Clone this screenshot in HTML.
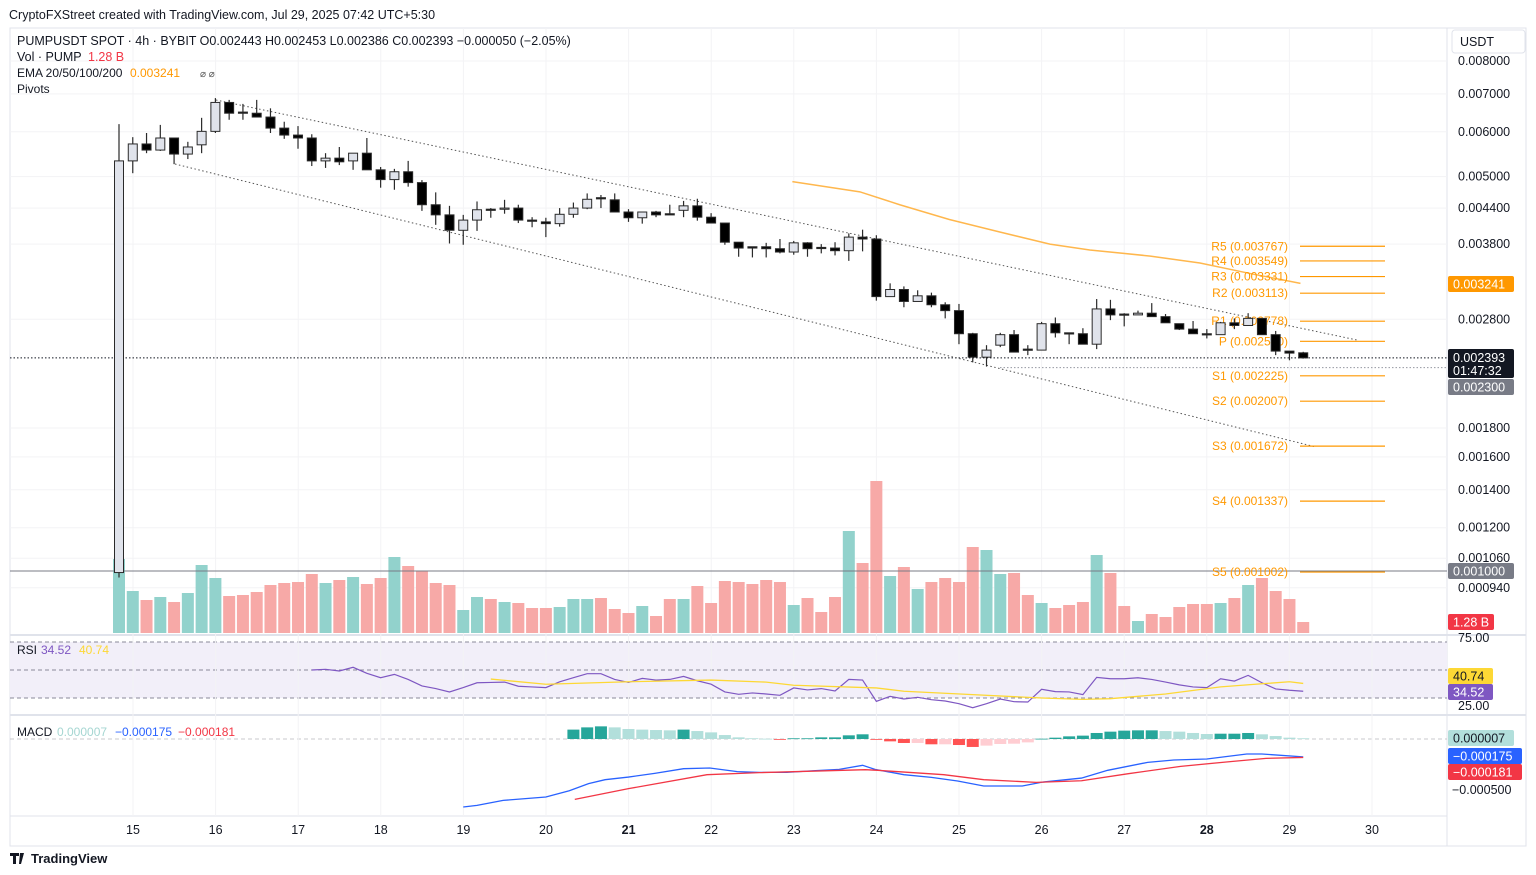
<!DOCTYPE html>
<html><head><meta charset="utf-8"><style>
html,body{margin:0;padding:0;background:#fff;width:1536px;height:875px;overflow:hidden}
svg{display:block;font-family:"Liberation Sans",Arial,sans-serif}
</style></head><body>
<svg id="chart" width="1536" height="875" viewBox="0 0 1536 875">
<g id="bg"></g><g id="grid"></g><g id="vol"></g><g id="lines"></g><g id="candles"></g><g id="overlay"></g><g id="axes"></g><g id="labels"></g>
</svg>
<script>
const openP=[.00100,.00533,.00571,.00557,.00585,.00548,.00569,.00601,.00676,.00650,.00647,.00637,.00609,.00592,.00585,.00533,.00539,.00533,.00550,.00514,.00494,.00510,.00488,.00446,.00428,.00402,.00419,.00438,.00440,.00440,.00419,.00416,.00413,.00429,.00440,.00459,.00455,.00433,.00423,.00433,.00430,.00436,.00444,.00424,.00414,.00383,.00376,.00376,.00373,.00368,.00382,.00375,.00374,.00370,.00391,.00388,.00307,.00316,.00301,.00308,.00297,.00290,.00264,.00240,.00252,.00263,.00248,.00247,.00275,.00265,.00264,.00253,.00292,.00286,.00285,.00287,.00283,.00275,.00269,.00264,.00263,.00276,.00273,.00281,.00263,.00246,.002443];
const highP=[.00619,.00587,.00597,.00617,.00585,.00576,.00635,.00688,.00683,.00672,.00683,.00660,.00625,.00614,.00594,.00550,.00564,.00550,.00585,.00520,.00516,.00533,.00493,.00469,.00444,.00428,.00452,.00440,.00455,.00446,.00424,.00423,.00440,.00450,.00467,.00464,.00467,.00438,.00433,.00435,.00446,.00453,.00457,.00431,.00414,.00383,.00376,.00382,.00388,.00385,.00383,.00380,.00383,.00397,.00403,.00394,.00324,.00320,.00315,.00312,.00300,.00298,.00265,.00252,.00265,.00268,.00252,.00277,.00282,.00265,.00270,.00304,.00303,.00287,.00290,.00299,.00286,.00275,.00278,.00269,.00277,.00281,.00287,.00281,.00267,.00246,.002453];
const lowP=[.00098,.00507,.00550,.00555,.00526,.00537,.00550,.00597,.00630,.00630,.00637,.00597,.00583,.00560,.00522,.00518,.00524,.00514,.00514,.00478,.00474,.00480,.00435,.00411,.00381,.00379,.00401,.00423,.00430,.00414,.00407,.00391,.00408,.00423,.00438,.00440,.00433,.00416,.00413,.00424,.00428,.00424,.00418,.00414,.00379,.00361,.00360,.00360,.00366,.00364,.00361,.00366,.00363,.00355,.00369,.00302,.00307,.00294,.00301,.00294,.00281,.00253,.00235,.00231,.00250,.00245,.00242,.00247,.00260,.00253,.00253,.00248,.00279,.00272,.00285,.00283,.00276,.00268,.00264,.00259,.00263,.00269,.00273,.00263,.00242,.00237,.002386];
const closeP=[.00533,.00571,.00557,.00585,.00548,.00564,.00601,.00676,.00647,.00647,.00637,.00609,.00592,.00585,.00533,.00539,.00531,.00550,.00514,.00494,.00510,.00488,.00446,.00428,.00402,.00419,.00437,.00436,.00440,.00419,.00417,.00413,.00429,.00440,.00456,.00458,.00433,.00423,.00433,.00428,.00428,.00444,.00424,.00414,.00383,.00374,.00374,.00373,.00368,.00382,.00373,.00374,.00370,.00391,.00388,.00307,.00316,.00301,.00308,.00297,.00290,.00264,.00240,.00247,.00263,.00245,.00247,.00275,.00265,.00264,.00253,.00292,.00285,.00285,.00287,.00283,.00276,.00269,.00264,.00263,.00276,.00273,.00281,.00263,.00246,.00244,.002393];
const volume=[74,42,33,36,31,40,68,55,37,38,41,48,50,51,59,50,53,56,49,55,76,67,62,50,48,23,36,34,31,30,25,25,26,34,34,35,24,20,27,17,34,34,47,30,52,51,49,53,51,28,35,21,36,102,70,152,57,66,44,51,55,51,86,83,59,60,38,30,25,28,31,78,60,27,12,19,16,26,29,29,30,35,48,55,42,34,11];
const emaIdx=[48.9,53.8,56.7,60.3,64.0,67.6,70.5,74.9,78.5,82.2,85.8];
const emaVal=[.00490,.00470,.00446,.00420,.00399,.00380,.00371,.00362,.00352,.00337,.00324];
const rsiVal=[50.0,50.6,49.1,52.4,47.0,43.1,46.1,41.6,35.8,33.4,30.4,34.3,38.6,38.9,39.2,35.5,34.9,34.3,39.5,43.1,46.7,46.7,41.6,38.9,42.5,41.0,41.6,44.3,40.4,37.3,30.4,28.3,29.5,28.6,27.4,34.0,32.2,33.4,31.3,41.6,41.0,22.0,26.5,24.1,25.6,23.5,22.3,19.9,16.3,19.9,24.1,21.7,21.4,32.8,30.7,30.4,28.0,43.4,42.2,42.2,43.1,41.6,39.2,36.7,34.9,34.3,42.2,40.1,45.2,38.6,33.1,31.9,31.0];
const rsiMaIdx=[27,31,37,43,47,49,55,57,62,67,70,72,76,80,83,85,86];
const rsiMaVal=[41.9,37.3,39.5,41.0,39.2,36.4,34.0,31.0,28.0,25.0,23.8,24.4,28.6,34.9,37.7,39.5,38.0];
const histVal=[92,114,124,114,98,92,88,85,92,78,65,39,16,7,3,-3,7,7,16,16,36,46,-3,-23,-39,-39,-52,-52,-59,-78,-65,-49,-46,-33,3,13,26,33,59,72,82,85,85,78,72,59,49,52,52,59,46,29,13,7];
const macdIdx=[25,26,27.9,31,32.7,34.1,35.3,37,38.9,41,42.9,44.9,46.5,48.5,50.4,52.3,54,54.9,57,59,60.9,62.8,65.6,67.1,69.9,71.8,74.7,76.6,79,81.9,83,86];
const macdVal=[-667,-651,-602,-569,-507,-438,-399,-373,-337,-291,-284,-320,-327,-327,-311,-298,-258,-298,-350,-376,-412,-461,-461,-422,-383,-307,-229,-206,-196,-147,-147,-175];
const sigIdx=[33.1,37,42.7,46.5,54.2,55.1,59.9,62.8,66.6,69.9,73.3,77.1,80.9,83.3,86];
const sigVal=[-592,-487,-350,-330,-301,-307,-350,-399,-425,-409,-340,-268,-219,-190,-181];
const pivotNames=["R5","R4","R3","R2","R1","P","S1","S2","S3","S4","S5"];
const pivotVals=[0.003767,0.003549,0.003331,0.003113,0.002778,0.002560,0.002225,0.002007,0.001672,0.001337,0.001002];
const priceTicks=[0.008,0.007,0.006,0.005,0.0044,0.0038,0.0028,0.0018,0.0016,0.0014,0.0012,0.00106,0.00094];
const dayLabels=["15","16","17","18","19","20","21","22","23","24","25","26","27","28","29","30"];

const NS="http://www.w3.org/2000/svg";
const xI=i=>119+i*13.77;
const yP=p=>61+246*Math.log(0.008/p);
const yV=v=>633-v;
const yR=v=>670-(v-50)*1.12;
const yM=v=>739-v*0.102;
const xD=k=>133+k*82.6;
function mk(parent,tag,attrs,text){const e=document.createElementNS(NS,tag);for(const k in attrs)e.setAttribute(k,attrs[k]);if(text!==undefined)e.textContent=text;document.getElementById(parent).appendChild(e);return e;}

let e;
e=mk('bg','rect',{x:10,y:28,width:1516,height:818,fill:'#fff',stroke:'#e0e3eb'});


e=mk('bg','line',{x1:1447,y1:28,x2:1447,y2:846,stroke:'#e0e3eb'});


e=mk('bg','line',{x1:10,y1:635,x2:1526,y2:635,stroke:'#e0e3eb',"stroke-width":2});


e=mk('bg','line',{x1:10,y1:715,x2:1526,y2:715,stroke:'#e0e3eb',"stroke-width":2});


e=mk('bg','line',{x1:10,y1:816,x2:1447,y2:816,stroke:'#e0e3eb'});


e=mk('bg','rect',{x:10,y:642,width:1437,height:56,fill:'#f2eff9'});


[642,670,698].forEach(y=>{e=mk('bg','line',{x1:10,y1:y,x2:1447,y2:y,stroke:'#8a8a99',"stroke-dasharray":"4,3","stroke-width":1});

});
e=mk('bg','line',{x1:10,y1:739,x2:1447,y2:739,stroke:'#c8c8cc',"stroke-dasharray":"4,3"});



priceTicks.forEach(p=>{e=mk('grid','line',{x1:10,y1:yP(p),x2:1447,y2:yP(p),stroke:'#f3f3f5'});

});
dayLabels.forEach((d,k)=>{e=mk('grid','line',{x1:xD(k),y1:28,x2:xD(k),y2:816,stroke:'#f3f3f5'});

});

volume.forEach((v,i)=>{const up=closeP[i]>=openP[i];
e=mk('vol','rect',{x:xI(i)-6,y:yV(v),width:12,height:v,fill:up?'#92d2cc':'#f7a9a7'});

});

e=mk('lines','line',{x1:10,y1:571,x2:1447,y2:571,stroke:'#787b86',"stroke-width":1});


e=mk('lines','line',{x1:10,y1:yP(closeP[86]),x2:1447,y2:yP(closeP[86]),stroke:'#131722',"stroke-dasharray":"1.5,2"});


e=mk('lines','line',{x1:1000,y1:yP(0.0023),x2:1447,y2:yP(0.0023),stroke:'#9598a1',"stroke-dasharray":"1.5,2"});


e=mk('lines','line',{x1:216,y1:100,x2:1357,y2:340,stroke:'#555',"stroke-dasharray":"1.5,2.5"});


e=mk('lines','line',{x1:175,y1:164,x2:1316,y2:447,stroke:'#555',"stroke-dasharray":"1.5,2.5"});


e=mk('lines','polyline',{points:emaIdx.map((v,k)=>xI(v)+','+yP(emaVal[k])).join(' '),fill:'none',stroke:'#ffb74d',"stroke-width":1.5});



pivotVals.forEach((p,k)=>{const y=yP(p);
e=mk('lines','line',{x1:1300,y1:y,x2:1385,y2:y,stroke:'#ff9800',"stroke-width":1.2});


e=mk('lines','text',{x:1288,y:y+4,"text-anchor":"end","font-size":12,fill:'#ff9800'},pivotNames[k]+' ('+p.toFixed(6)+')');

});

openP.forEach((o,i)=>{const c=closeP[i],up=c>=o,x=xI(i);
e=mk('candles','line',{x1:x,y1:yP(highP[i]),x2:x,y2:yP(lowP[i]),stroke:'#2a2a2a',"stroke-width":1.2});


const t=yP(Math.max(o,c)),b=yP(Math.min(o,c));
e=mk('candles','rect',{x:x-4.5,y:t,width:9,height:Math.max(b-t,1.2),fill:up?'#e0e3eb':'#000',stroke:'#2a2a2a',"stroke-width":1});

});

const rs=87-rsiVal.length;
e=mk('overlay','polyline',{points:rsiVal.map((v,k)=>xI(rs+k)+','+yR(v)).join(' '),fill:'none',stroke:'#7e57c2',"stroke-width":1.2});


e=mk('overlay','polyline',{points:rsiMaIdx.map((v,k)=>xI(v)+','+yR(rsiMaVal[k])).join(' '),fill:'none',stroke:'#fdd835',"stroke-width":1.3});



const hs=87-histVal.length;
histVal.forEach((v,k)=>{const prev=k>0?histVal[k-1]:0;let col;
if(v>=0)col=v>=prev?'#26a69a':'#b2dfdb';else col=v<prev?'#ff5252':'#ffcdd2';
const y0=yM(0),y1=yM(v);
e=mk('overlay','rect',{x:xI(hs+k)-6,y:Math.min(y0,y1),width:12,height:Math.max(Math.abs(y1-y0),0.8),fill:col});

});
e=mk('overlay','polyline',{points:macdIdx.map((v,k)=>xI(v)+','+yM(macdVal[k])).join(' '),fill:'none',stroke:'#2962ff',"stroke-width":1.3});


e=mk('overlay','polyline',{points:sigIdx.map((v,k)=>xI(v)+','+yM(sigVal[k])).join(' '),fill:'none',stroke:'#f23645',"stroke-width":1.3});



priceTicks.forEach(p=>{e=mk('axes','text',{x:1458,y:yP(p)+4,"font-size":12.5,fill:'#131722'},p.toFixed(6));

});
dayLabels.forEach((d,k)=>{e=mk('axes','text',{x:xD(k),y:834,"text-anchor":"middle","font-size":12.5,fill:'#131722',"font-weight":(d==="21"||d==="28")?'bold':'normal'},d);

});
function tag(y,h,bg,fg,txt,name,x,w){e=mk('axes','rect',{x:x||1448,y:y,width:w||66,height:h,rx:2,fill:bg});


e=mk('axes','text',{x:(x||1448)+5,y:y+h/2+4.5,"font-size":12.5,fill:fg},txt);

}
tag(276,16,'#ff9800','#fff','0.003241','ema-price-tag');
e=mk('axes','rect',{x:1448,y:349,width:66,height:29,rx:2,fill:'#131722'});


e=mk('axes','text',{x:1453,y:362,"font-size":12.5,fill:'#fff'},'0.002393');


e=mk('axes','text',{x:1453,y:375,"font-size":12.5,fill:'#fff'},'01:47:32');


tag(379,16,'#787b86','#fff','0.002300','alert-price-tag');
tag(563,16,'#787b86','#fff','0.001000','level-price-tag');
tag(614,16,'#f23645','#fff','1.28 B','volume-tag',1448,46);
e=mk('axes','text',{x:1458,y:642,"font-size":12.5,fill:'#131722'},'75.00');


e=mk('axes','text',{x:1458,y:710,"font-size":12.5,fill:'#131722'},'25.00');


tag(668,16,'#fdd835','#131722','40.74','rsi-ma-tag',1448,45);
tag(684,16,'#7e57c2','#fff','34.52','rsi-tag',1448,45);
tag(730,16,'#b2dfdb','#131722','0.000007','macd-hist-tag',1448,66);
tag(748,16,'#2962ff','#fff','−0.000175','macd-tag',1448,74);
tag(764,16,'#f23645','#fff','−0.000181','signal-tag',1448,74);
e=mk('axes','text',{x:1452,y:794,"font-size":12.5,fill:'#131722'},'−0.000500');


e=mk('axes','rect',{x:1452,y:30,width:73,height:23,rx:3,fill:'#fff',stroke:'#e0e3eb'});


e=mk('axes','text',{x:1460,y:46,"font-size":12.5,fill:'#131722'},'USDT');



function txt(x,y,s,t,fill,name,size){e=mk('labels','text',{x:x,y:y,"font-size":size||12,fill:fill||'#131722'},t);

return e;}
txt(9,19,0,'CryptoFXStreet created with TradingView.com, Jul 29, 2025 07:42 UTC+5:30','#131722','header-title',12.5);
txt(17,45,0,'PUMPUSDT SPOT · 4h · BYBIT  O0.002443  H0.002453  L0.002386  C0.002393  −0.000050 (−2.05%)','#131722','symbol-legend',12.5).setAttribute('xml:space','preserve');
txt(17,61,0,'Vol · PUMP','#131722','volume-legend',12.5);
txt(88,61,0,'1.28 B','#f23645','volume-legend-value',12.5);
txt(17,77,0,'EMA 20/50/100/200','#131722','ema-legend');
txt(130,77,0,'0.003241','#ff9800','ema-legend-value');
txt(200,77,0,'⌀ ⌀','#555','ema-legend-extra',10);
txt(17,93,0,'Pivots','#131722','pivots-legend');
txt(17,654,0,'RSI','#131722','rsi-legend');
txt(41,654,0,'34.52','#7e57c2','rsi-legend-value');
txt(79,654,0,'40.74','#fdd835','rsi-ma-legend-value');
txt(17,736,0,'MACD','#131722','macd-legend');
txt(57,736,0,'0.000007','#a5d6d2','macd-hist-legend-value');
txt(115,736,0,'−0.000175','#2962ff','macd-legend-value');
txt(178,736,0,'−0.000181','#f23645','signal-legend-value');
e=mk('labels','path',{d:'M10 853h9v3h-3v8h-3v-8h-3z M20 853h4l-3 11h-2z',fill:'#131722'});


txt(31,863,0,'TradingView','#131722','tradingview-logo-text',13).setAttribute('font-weight','bold');
</script>
</body></html>
